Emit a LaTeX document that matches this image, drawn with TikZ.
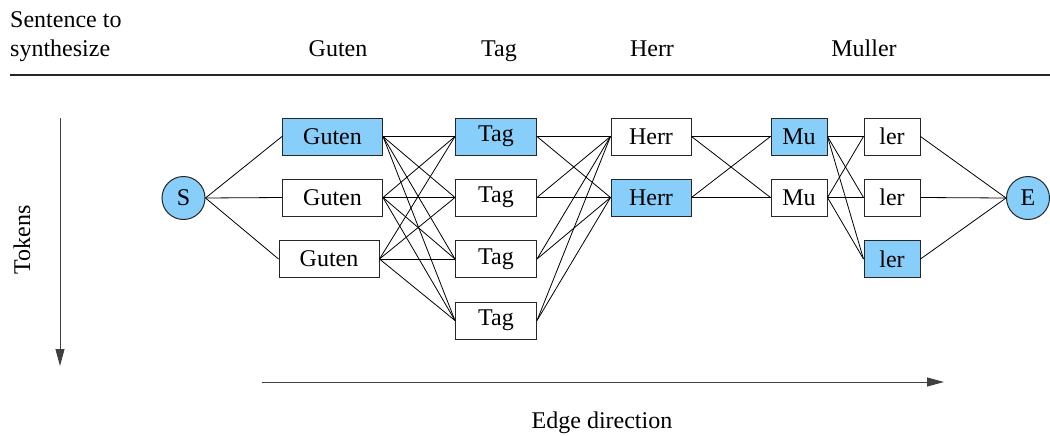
\documentclass[tikz,border=0pt]{standalone}
\usepackage{fontspec}
\setmainfont{LiberationSerif}[Extension=.ttf,UprightFont=*-Regular,BoldFont=*-Bold,ItalicFont=*-Italic,BoldItalicFont=*-BoldItalic]
\usetikzlibrary{arrows.meta}
\definecolor{tokblue}{RGB}{135,206,250}
\begin{document}
\begin{tikzpicture}[x=1pt,y=-1pt,
  every node/.style={font=\rmfamily\fontsize{24}{29}\selectfont},
  tok/.style={draw=black!85,line width=1pt,minimum height=37pt,inner sep=0pt,fill=white},
  sel/.style={tok,fill=tokblue},
  endpt/.style={circle,draw=black!85,line width=1pt,fill=tokblue,minimum size=43pt,inner sep=0pt},
  conn/.style={line width=0.8pt,black},
  axis/.style={line width=1pt,black!75,-{Triangle[length=17pt,width=9pt]}}]
\useasboundingbox (0,0) rectangle (1050,436);
% header
\node[anchor=base west,inner sep=0pt] (h1) at (10,28) {Sentence to};
\node[anchor=base west,inner sep=0pt] (h2) at (10,57) {synthesize};
\node[anchor=base,inner sep=0pt] (wg) at (338,57) {Guten};
\node[anchor=base,inner sep=0pt] (wt) at (499,57) {Tag};
\node[anchor=base,inner sep=0pt] (wh) at (652,57) {Herr};
\node[anchor=base,inner sep=0pt] (wm) at (864,57) {Muller};
\coordinate (ruleL) at (10,75);
\coordinate (ruleR) at (1050,75);
\draw[line width=1.2pt,black!85] (ruleL) -- (ruleR);
% nodes
\node[endpt] (S) at (183.5,198) {S};
\node[endpt] (E) at (1028,198) {E};
\node[sel,minimum width=100pt] (G1) at (332.5,136.5) {Guten};
\node[tok,minimum width=100pt] (G2) at (332.5,197.5) {Guten};
\node[tok,minimum width=100pt] (G3) at (329,259) {Guten};
\node[sel,minimum width=81pt] (T1) at (496,136.5) {Tag};
\node[tok,minimum width=81pt] (T2) at (496,197.5) {Tag};
\node[tok,minimum width=81pt] (T3) at (496,259) {Tag};
\node[tok,minimum width=81pt] (T4) at (496,320.5) {Tag};
\node[tok,minimum width=80pt] (H1) at (651,136.5) {Herr};
\node[sel,minimum width=80pt] (H2) at (651,197.5) {Herr};
\node[sel,minimum width=56pt] (M1) at (799,136.5) {Mu};
\node[tok,minimum width=56pt] (M2) at (799,197.5) {Mu};
\node[tok,minimum width=56pt] (L1) at (892,136.5) {ler};
\node[tok,minimum width=56pt] (L2) at (892,197.5) {ler};
\node[sel,minimum width=56pt] (L3) at (892,259) {ler};
% connectors
\foreach \g in {G1,G2,G3} \draw[conn] (S.east) -- (\g.west);
\foreach \g in {G1,G2,G3} \foreach \t in {T1,T2,T3,T4} \draw[conn] (\g.east) -- (\t.west);
\foreach \t in {T1,T2,T3,T4} \foreach \h in {H1,H2} \draw[conn] (\t.east) -- (\h.west);
\foreach \h in {H1,H2} \foreach \m in {M1,M2} \draw[conn] (\h.east) -- (\m.west);
\foreach \m in {M1,M2} \foreach \l in {L1,L2,L3} \draw[conn] (\m.east) -- (\l.west);
\foreach \l in {L1,L2,L3} \draw[conn] (\l.east) -- (E.west);
% axes
\coordinate (vA) at (60,118);
\coordinate (vB) at (60,366);
\draw[axis] (vA) -- (vB);
\node[rotate=90,inner sep=0pt] (tokens) at (22,240) {Tokens};
\coordinate (hA) at (262,382);
\coordinate (hB) at (944,382);
\draw[axis] (hA) -- (hB);
\node[inner sep=0pt] (edge) at (602,423) {Edge direction};
\end{tikzpicture}
\end{document}
